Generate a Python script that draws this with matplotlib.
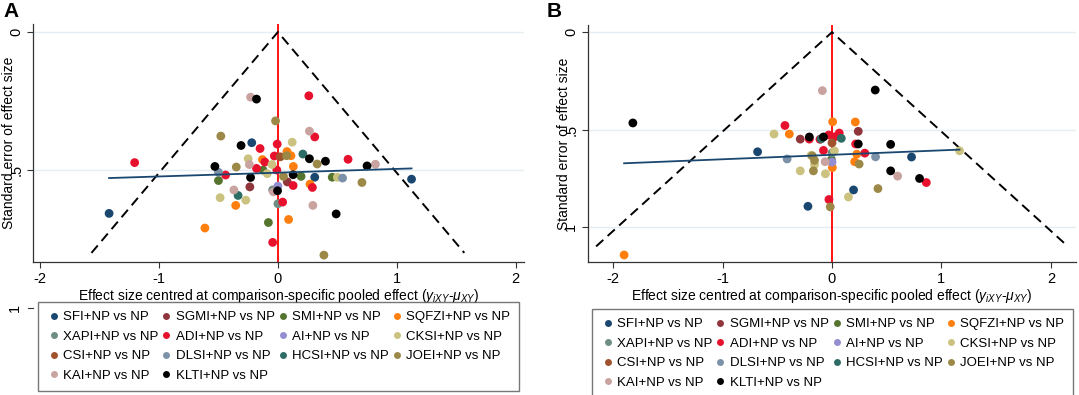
import matplotlib
matplotlib.use("Agg")
import matplotlib.pyplot as plt
from matplotlib.lines import Line2D
import matplotlib.transforms as mtransforms

plt.rcParams['font.family'] = ['Liberation Sans', 'DejaVu Sans']
plt.rcParams['mathtext.fontset'] = 'custom'
plt.rcParams['mathtext.rm'] = 'Liberation Sans'
plt.rcParams['mathtext.it'] = 'Liberation Sans:italic'

# series, in Stata order
series = ["SFI", "SGMI", "SMI", "SQFZI", "XAPI", "ADI", "AI", "CKSI",
          "CSI", "DLSI", "HCSI", "JOEI", "KAI", "KLTI"]
colors = ["#1a476f", "#90353b", "#55752f", "#ff7f0e", "#6e8e84", "#e8112d",
          "#938dd2", "#cac27e", "#a0522d", "#7b92a8", "#2d6d66", "#9c8847",
          "#c9a3a0", "#000000"]

# panel A: centred effect, standard error, series
a_x = [-0.23, -0.18, 0.26, -0.02, 0.265, 0.31, -0.48, -0.22, -0.31, -0.15,
       -0.006, 0.12, 0.076, 0.11, 0.073, -0.03, 0.02, 0.21, 0.265, 0.40,
       0.33, 0.59, 0.75, 0.82, -1.205, -0.25, -0.13, -0.11, -0.24, -0.05,
       -0.53, -0.35, -0.18, -0.125, -0.09, -0.009, 0.13, 0.128, 0.047, 0.195,
       0.31, 0.457, 0.50, 0.544, 0.707, 1.124, -1.42, -0.50, -0.44, -0.50,
       -0.23, -0.236, 0.079, 0.128, 0.0, 0.27, 0.29, -0.044, -0.038, -0.003,
       -0.37, -0.335, -0.486, -0.27, -0.355, 0.0, 0.04, 0.294, 0.49, -0.08,
       0.09, -0.614, -0.044, 0.387]
a_se = [0.236, 0.243, 0.231, 0.322, 0.359, 0.380, 0.377, 0.401, 0.411, 0.422,
        0.406, 0.399, 0.433, 0.448, 0.448, 0.449, 0.452, 0.442, 0.459, 0.468,
        0.478, 0.461, 0.485, 0.479, 0.473, 0.459, 0.462, 0.471, 0.480, 0.480,
        0.487, 0.489, 0.494, 0.500, 0.513, 0.500, 0.487, 0.517, 0.523, 0.523,
        0.526, 0.526, 0.526, 0.529, 0.545, 0.533, 0.657, 0.508, 0.518, 0.538,
        0.527, 0.561, 0.543, 0.556, 0.558, 0.551, 0.563, 0.572, 0.579, 0.575,
        0.572, 0.592, 0.600, 0.609, 0.628, 0.622, 0.616, 0.628, 0.659, 0.690,
        0.679, 0.710, 0.762, 0.808]
a_grp = ["KAI", "KLTI", "ADI", "JOEI", "KAI", "ADI", "JOEI", "SFI", "KLTI", "ADI",
         "ADI", "CKSI", "SQFZI", "SQFZI", "JOEI", "ADI", "CSI", "HCSI", "KLTI", "KLTI",
         "JOEI", "ADI", "KLTI", "KAI", "ADI", "CKSI", "SQFZI", "ADI", "KAI", "CKSI",
         "KLTI", "JOEI", "ADI", "SMI", "CKSI", "ADI", "SQFZI", "KLTI", "JOEI", "SMI",
         "SFI", "SMI", "CKSI", "DLSI", "JOEI", "SFI", "SFI", "DLSI", "ADI", "SMI",
         "KLTI", "SGMI", "SGMI", "ADI", "AI", "SQFZI", "ADI", "XAPI", "KAI", "KLTI",
         "KAI", "HCSI", "CKSI", "CKSI", "SQFZI", "XAPI", "ADI", "KAI", "KLTI", "SMI",
         "SQFZI", "SQFZI", "ADI", "JOEI"]

# panel B
b_x = [-0.088, 0.395, -1.82, 0.006, 0.213, -0.43, -0.53, -0.39, -0.29, -0.207,
       -0.207, -0.11, -0.078, -0.10, -0.03, 0.025, 0.066, 0.085, 0.0, 0.24,
       0.216, 0.24, 0.536, 0.30, -0.078, 0.022, -0.68, -0.41, -0.19, -0.18,
       -0.16, -0.16, 0.226, 0.207, 0.248, 0.398, 0.727, -0.063, 0.0, 0.003,
       -0.29, -0.17, -0.06, 0.536, 0.60, 0.80, 0.862, 0.197, 0.42, 0.15,
       -0.028, -0.22, -0.016, -1.90, 1.166, 0.0, -0.005]
b_se = [0.300, 0.297, 0.466, 0.460, 0.461, 0.479, 0.523, 0.523, 0.549, 0.538,
        0.549, 0.550, 0.538, 0.548, 0.528, 0.537, 0.518, 0.545, 0.568, 0.509,
        0.574, 0.574, 0.576, 0.621, 0.607, 0.609, 0.614, 0.651, 0.632, 0.635,
        0.658, 0.680, 0.626, 0.665, 0.677, 0.640, 0.641, 0.665, 0.667, 0.695,
        0.712, 0.712, 0.727, 0.712, 0.739, 0.751, 0.772, 0.810, 0.803, 0.846,
        0.859, 0.894, 0.897, 1.144, 0.609, 0.620, 0.655]
b_grp = ["KAI", "KLTI", "KLTI", "SQFZI", "SQFZI", "ADI", "CKSI", "SQFZI", "SGMI", "KLTI",
         "ADI", "ADI", "KLTI", "HCSI", "ADI", "ADI", "ADI", "HCSI", "CSI", "SGMI",
         "ADI", "KLTI", "KLTI", "ADI", "ADI", "CKSI", "SFI", "DLSI", "CKSI", "JOEI",
         "JOEI", "CKSI", "SQFZI", "SQFZI", "JOEI", "DLSI", "SFI", "KAI", "AI", "SQFZI",
         "CKSI", "JOEI", "CKSI", "KLTI", "KAI", "KLTI", "ADI", "SFI", "JOEI", "CKSI",
         "ADI", "SFI", "JOEI", "SQFZI", "CKSI", "XAPI", "SMI"]

# fitted line (intercept, slope) and funnel depth
a_fit = (0.5095, -0.0137)
b_fit = (0.6296, -0.0229)
a_funnel = 0.80
b_funnel = 1.10

W, H = 1079, 395
fig = plt.figure(figsize=(W / 100, H / 100), dpi=100)


def px(l, r, t, b):
    return [l / W, 1 - b / H, (r - l) / W, (b - t) / H]


def panel(rect, xs, ses, grps, fit, depth, xlim, ylim, yticks, letter, lx, leg_rect):
    ax = fig.add_axes(rect)
    ax.set_xlim(*xlim)
    ax.set_ylim(*ylim)
    for t in yticks:
        if ylim[1] <= t <= ylim[0]:
            ax.axhline(t, color="#e4eef2", lw=1, zorder=0)
    ax.axvline(0, color="red", lw=1.3, zorder=1)
    ax.plot([-1.96 * depth, 0, 1.96 * depth], [depth, 0, depth], color="black",
            lw=1.4, ls=(0, (5, 3)), zorder=1)
    for name, c in zip(series, colors):
        px_ = [x for x, g in zip(xs, grps) if g == name]
        py_ = [s for s, g in zip(ses, grps) if g == name]
        if px_:
            ax.scatter(px_, py_, s=40, color=c, edgecolors="none", zorder=3)
    x0, x1 = min(xs), max(xs)
    ax.plot([x0, x1], [fit[0] + fit[1] * x0, fit[0] + fit[1] * x1],
            color="#1a476f", lw=1.3, zorder=4)

    for side in ("top", "right"):
        ax.spines[side].set_visible(False)
    for side in ("left", "bottom"):
        ax.spines[side].set_color("#333333")
        ax.spines[side].set_linewidth(0.9)
    ax.set_xticks([-2, -1, 0, 1, 2])
    ax.set_xticklabels(["-2", "-1", "0", "1", "2"])
    vis = [t for t in yticks if ylim[1] <= t <= ylim[0]]
    ax.set_yticks(vis)
    ax.set_yticklabels([("0" if t == 0 else ".5" if t == 0.5 else "1") for t in vis],
                       rotation=90, va="center")
    ax.tick_params(labelsize=10.5, length=4, width=0.8, color="#333333", pad=3)
    ax.set_xlabel(r"Effect size centred at comparison-specific pooled effect ($y_{iXY}$-$\mu_{XY}$)",
                  fontsize=10, labelpad=1)
    ax.set_ylabel("Standard error of effect size", fontsize=10, labelpad=-5)
    fig.text(lx, 1 - 2 / H, letter, fontsize=15, fontweight="bold", va="top", ha="left")

    # tick at 1 that falls outside the plot region
    if 1 > ylim[0]:
        tr = mtransforms.blended_transform_factory(ax.transAxes, ax.transData)
        ax.plot([-0.011, 0], [1, 1], color="#333333", lw=0.8, transform=tr, clip_on=False)
        ax.text(-0.022, 1, "1", rotation=90, va="center", ha="right", fontsize=10.5,
                transform=tr, clip_on=False)

    handles = [Line2D([], [], ls="none", marker="o", markersize=5, color=c,
                      markeredgewidth=0) for c in colors]
    labels = [s + "+NP vs NP" for s in series]
    order = [0, 4, 8, 12, 1, 5, 9, 13, 2, 6, 10, 3, 7, 11]
    leg = fig.legend([handles[i] for i in order], [labels[i] for i in order],
                     loc="upper left", bbox_to_anchor=leg_rect, mode="expand",
                     ncol=4, fontsize=9.5, frameon=True, fancybox=False,
                     edgecolor="#555555", handletextpad=0.2, handlelength=1.0,
                     labelspacing=0.55, columnspacing=0.3, borderpad=0.7,
                     borderaxespad=0)
    leg.get_frame().set_linewidth(1.0)
    return ax


panel(px(33, 524, 24, 262), a_x, a_se, a_grp, a_fit, a_funnel,
      (-2.06, 2.07), (0.833, -0.029), [0, 0.5, 1], "A", 3 / W,
      (38 / W, 0, 481 / W, 1 - 302 / H))
panel(px(588, 1076, 25, 262), b_x, b_se, b_grp, b_fit, b_funnel,
      (-2.23, 2.23), (1.18, -0.037), [0, 0.5, 1], "B", 547 / W,
      (592 / W, 0, 481 / W, 1 - 309 / H))

fig.savefig("out.png", dpi=100)
